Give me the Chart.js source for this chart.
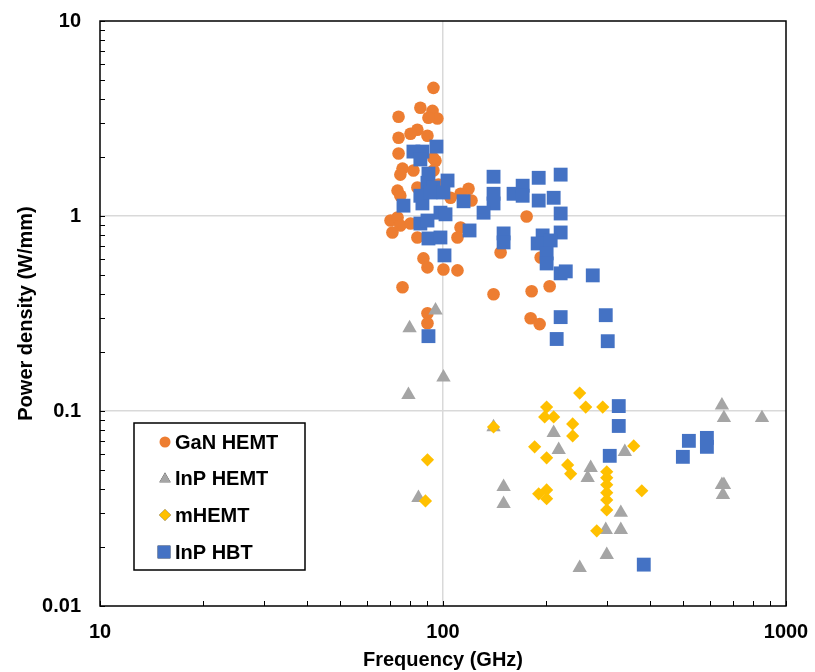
<!DOCTYPE html>
<html>
<head>
<meta charset="utf-8">
<script src="https://cdn.jsdelivr.net/npm/chart.js@4/dist/chart.umd.min.js"></script>
<style>
  html, body { margin: 0; padding: 0; background: #fff; }
  #wrap { width: 815px; height: 672px; position: relative; }
</style>
</head>
<body>
<div id="wrap"><canvas id="c" width="815" height="672"></canvas></div>
<script>
// ---------- data (frequency in GHz, power density in W/mm) ----------
const seriesNames = ['GaN HEMT', 'InP HEMT', 'mHEMT', 'InP HBT'];

const ganFreq  = [93.8,85.9,93.2,96.3,90.7,74.2,84.2,80.4,90.1,74.2,74.2,95.1,76.2,75.1,82.0,93.8,84.2,73.7,75.1,118.7,112.5,121.1,105.2,70.3,73.7,71.2,75.1,80.4,84.2,112.5,110.2,175.3,147.2,192.6,87.7,90.1,100.3,110.2,76.2,140.4,181.3,204.6,90.1,90.1,180.1,191.3,93.8,97.0];
const ganPower = [4.54,3.59,3.46,3.16,3.19,3.23,2.77,2.64,2.58,2.52,2.09,1.92,1.75,1.63,1.71,1.71,1.40,1.35,1.27,1.38,1.30,1.20,1.24,0.948,0.982,0.823,0.894,0.915,0.776,0.873,0.776,0.994,0.650,0.613,0.606,0.545,0.532,0.526,0.431,0.397,0.411,0.436,0.317,0.282,0.299,0.279,1.98,1.45];

const inpHemtFreq  = [95.1,79.9,100.3,79.3,140.4,210.2,217.4,338.9,269.5,264.1,150.2,150.2,84.8,329.9,298.2,329.9,300.2,250.3,650.4,659.2,851.1,650.4,659.2,654.9];
const inpHemtPower = [0.328,0.266,0.149,0.121,0.0828,0.0772,0.0632,0.0617,0.0511,0.0454,0.0408,0.0334,0.0359,0.0301,0.0246,0.0246,0.0183,0.0157,0.107,0.0921,0.0921,0.0418,0.0418,0.0372];

const mhemtFreq  = [250.3,200.5,197.9,210.2,260.7,292.2,238.8,238.8,140.4,185.0,200.5,359.8,230.9,235.6,90.1,300.2,300.2,300.2,300.2,300.2,300.2,379.8,190.1,200.5,200.5,88.9,280.7];
const mhemtPower = [0.1236,0.1048,0.0932,0.0932,0.1048,0.1048,0.0858,0.0745,0.0828,0.0655,0.0575,0.0662,0.0529,0.0476,0.0562,0.0488,0.0454,0.0418,0.0381,0.0350,0.0311,0.0390,0.0376,0.0394,0.0355,0.0346,0.0243];

const hbtFreq  = [95.7,82.0,87.1,85.9,90.7,103.1,90.1,93.8,85.9,87.1,91.9,100.3,76.7,114.8,98.3,101.7,85.9,90.1,90.7,98.3,119.5,101.0,140.4,140.4,140.4,131.3,160.6,170.7,170.7,190.1,190.1,210.2,220.3,220.3,150.2,150.2,220.3,195.2,188.8,206.0,200.5,200.5,220.3,228.0,273.3,220.3,298.2,214.5,302.2,90.7,325.4,325.4,306.3,384.9,521.0,588.0,588.0,500.4];
const hbtPower = [2.27,2.14,2.14,1.95,1.65,1.52,1.48,1.40,1.27,1.16,1.32,1.32,1.13,1.19,1.04,1.02,0.915,0.948,0.767,0.776,0.843,0.628,1.59,1.30,1.16,1.04,1.30,1.43,1.27,1.57,1.20,1.24,1.63,1.03,0.814,0.732,0.823,0.795,0.723,0.749,0.643,0.571,0.508,0.520,0.496,0.303,0.310,0.234,0.228,0.242,0.106,0.0838,0.0589,0.0163,0.0703,0.0728,0.0655,0.0582];

// ---------- axis ticks ----------
const xTickValues = [10,20,30,40,50,60,70,80,90,100,200,300,400,500,600,700,800,900,1000];
const xTickLabels = ['10','100','1000'];
const yTickValues = [0.01,0.02,0.03,0.04,0.05,0.06,0.07,0.08,0.09,0.1,0.2,0.3,0.4,0.5,0.6,0.7,0.8,0.9,1,2,3,4,5,6,7,8,9,10];
const yTickLabels = ['0.01','0.1','1','10'];

// ---------- styles ----------
const colors = ['#ED7D31', '#A5A5A5', '#FFC000', '#4472C4'];
const styles = ['circle', 'triangle', 'rectRot', 'rect'];
const radii  = [6.3, 8.3, 6.6, 9.8];
const legendRadii = [5.5, 6.5, 5.8, 9];
const FONT = '"Liberation Sans", Arial, sans-serif';

function pts(xs, ys) { return xs.map((x, i) => ({ x: x, y: ys[i] })); }
const seriesData = [pts(ganFreq, ganPower), pts(inpHemtFreq, inpHemtPower), pts(mhemtFreq, mhemtPower), pts(hbtFreq, hbtPower)];

function isPow10(v) { const l = Math.log10(v); return Math.abs(l - Math.round(l)) < 1e-9; }
function fmt(v) { return isPow10(v) ? (v >= 1 ? String(Math.round(v)) : String(+v.toPrecision(1))) : ''; }
function noPad(s) { s.paddingTop = 0; s.paddingBottom = 0; s.paddingLeft = 0; s.paddingRight = 0; }

const frameAndTicks = {
  id: 'frameAndTicks',
  afterDraw(chart) {
    const ctx = chart.ctx, a = chart.chartArea;
    const xs = chart.scales.x, ys = chart.scales.y;
    ctx.save();
    ctx.strokeStyle = '#000';
    ctx.lineWidth = 1;
    ctx.beginPath();
    xs.ticks.forEach(t => {
      const p = Math.round(xs.getPixelForValue(t.value)) + 0.5;
      ctx.moveTo(p, a.bottom); ctx.lineTo(p, a.bottom - 5);
    });
    ys.ticks.forEach(t => {
      const p = Math.round(ys.getPixelForValue(t.value)) + 0.5;
      ctx.moveTo(a.left, p); ctx.lineTo(a.left + 5, p);
    });
    ctx.stroke();
    ctx.lineWidth = 1.5;
    ctx.strokeRect(a.left, a.top, a.right - a.left, a.bottom - a.top);
    ctx.restore();
  }
};

const legendBox = {
  id: 'legendBox',
  afterDraw(chart) {
    const ctx = chart.ctx;
    const bx = 134, by = 423, bw = 171, bh = 147;
    ctx.save();
    ctx.fillStyle = '#fff';
    ctx.fillRect(bx, by, bw, bh);
    ctx.strokeStyle = '#000';
    ctx.lineWidth = 1.5;
    ctx.strokeRect(bx, by, bw, bh);
    ctx.font = 'bold 20px ' + FONT;
    ctx.textBaseline = 'middle';
    ctx.textAlign = 'left';
    const rows = [442, 478, 515, 552];
    seriesNames.forEach((name, i) => {
      const mx = i === 3 ? 164 : 165;
      const my = rows[i] + (i === 1 ? 1 : 0);
      Chart.helpers.drawPoint(ctx, {
        pointStyle: styles[i], radius: legendRadii[i], rotation: 0, borderWidth: 0
      }, mx, my);
      ctx.fillStyle = colors[i];
      ctx.fill();
      ctx.fillStyle = '#000';
      ctx.fillText(name, 175, rows[i] + 1);
    });
    ctx.restore();
  }
};

const chart = new Chart(document.getElementById('c'), {
  type: 'scatter',
  data: {
    datasets: seriesNames.map((name, i) => ({
      label: name,
      data: seriesData[i],
      pointStyle: styles[i],
      pointRadius: radii[i],
      pointHoverRadius: radii[i],
      pointBackgroundColor: colors[i],
      pointBorderWidth: 0,
      backgroundColor: colors[i],
      borderColor: colors[i],
      order: 4 - i
    }))
  },
  options: {
    responsive: false,
    animation: false,
    events: [],
    layout: { padding: { top: 21, right: 29, bottom: 0, left: 0 } },
    plugins: { legend: { display: false }, tooltip: { enabled: false } },
    scales: {
      x: {
        type: 'logarithmic',
        min: 10, max: 1000,
        afterBuildTicks: s => { s.ticks = xTickValues.map(v => ({ value: v, major: isPow10(v) })); },
        afterFit: s => { s.height = 66; noPad(s); },
        border: { display: false },
        grid: {
          drawTicks: false,
          color: c => (c.tick && c.tick.value === 100) ? '#d9d9d9' : 'rgba(0,0,0,0)',
          lineWidth: 1.5
        },
        ticks: {
          autoSkip: false, maxRotation: 0, padding: 14,
          color: '#000',
          font: { family: FONT, size: 20, weight: 'bold' },
          callback: v => { const l = fmt(v); return xTickLabels.includes(l) ? l : ''; }
        },
        title: {
          display: true, text: 'Frequency (GHz)', color: '#000',
          font: { family: FONT, size: 20, weight: 'bold' },
          padding: { top: 0, bottom: 0 }
        }
      },
      y: {
        type: 'logarithmic',
        min: 0.01, max: 10,
        afterBuildTicks: s => { s.ticks = yTickValues.map(v => ({ value: v, major: isPow10(v) })); },
        afterFit: s => { s.width = 100; noPad(s); },
        border: { display: false },
        grid: {
          drawTicks: false,
          color: c => (c.tick && (c.tick.value === 1 || Math.abs(c.tick.value - 0.1) < 1e-9)) ? '#d9d9d9' : 'rgba(0,0,0,0)',
          lineWidth: 1.5
        },
        ticks: {
          autoSkip: false, padding: 19,
          color: '#000',
          font: { family: FONT, size: 20, weight: 'bold' },
          callback: v => { const l = fmt(v); return yTickLabels.includes(l) ? l : ''; }
        },
        title: {
          display: true, text: 'Power density (W/mm)', color: '#000',
          font: { family: FONT, size: 20, weight: 'bold' },
          padding: { top: 14, bottom: 0 }
        }
      }
    }
  },
  plugins: [frameAndTicks, legendBox]
});
</script>
</body>
</html>
